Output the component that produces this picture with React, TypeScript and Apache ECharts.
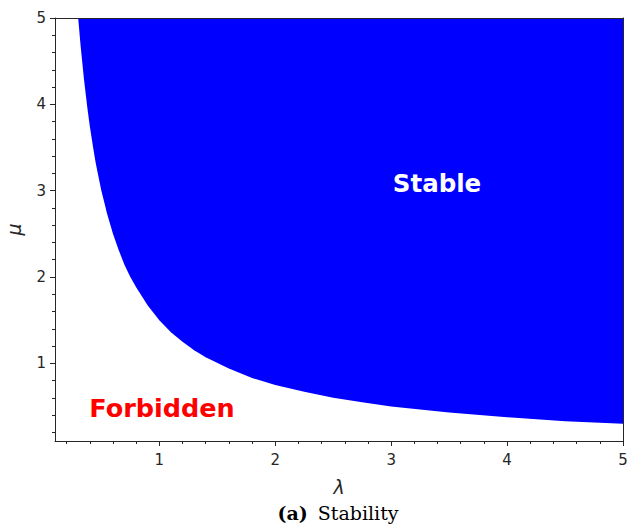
import React, { useEffect, useRef } from "react";
import * as echarts from "echarts";

// Boundary of the stable region
const lambdaVals = [0.30, 0.32, 0.35, 0.38, 0.40, 0.43, 0.45, 0.48, 0.50, 0.55, 0.60, 0.65, 0.70, 0.75, 0.80, 0.90, 1.0, 1.1, 1.2, 1.3, 1.4, 1.6, 1.8, 2.0, 2.25, 2.5, 2.75, 3.0, 3.5, 4.0, 4.5, 5.0];
const muVals = [5.0, 4.69, 4.29, 3.95, 3.75, 3.49, 3.33, 3.13, 3.0, 2.73, 2.5, 2.31, 2.14, 2.0, 1.88, 1.67, 1.5, 1.36, 1.25, 1.15, 1.07, 0.94, 0.83, 0.75, 0.67, 0.6, 0.55, 0.5, 0.43, 0.375, 0.33, 0.30];

const majorTicks = [1, 2, 3, 4, 5];
const minorTicks = [0.2, 0.4, 0.6, 0.8, 1.2, 1.4, 1.6, 1.8, 2.2, 2.4, 2.6, 2.8, 3.2, 3.4, 3.6, 3.8, 4.2, 4.4, 4.6, 4.8];
const axisMin = 0.1;
const axisMax = 5;

const AX = "#262626";

export default function App() {
  const ref = useRef<HTMLDivElement>(null);
  useEffect(() => {
    document.body.style.margin = "0";
    if (!ref.current) return;
    const chart = echarts.init(ref.current, null, { renderer: "svg" });
    const data = lambdaVals.map((l, i) => [l, muVals[i]]);
    const base = { type: "value", min: axisMin, max: axisMax, splitLine: { show: false } };
    chart.setOption({
      animation: false,
      grid: { left: 55, top: 18, right: 5, bottom: 83, containLabel: false, outerBoundsMode: "none" },
      xAxis: [
        {
          ...base,
          position: "bottom",
          name: "λ",
          nameLocation: "middle",
          nameGap: 36,
          nameTextStyle: { fontFamily: "DejaVu Sans", fontStyle: "italic", fontSize: 19, color: AX },
          axisLine: { show: true, onZero: false, lineStyle: { color: AX, width: 1 } },
          axisTick: { show: true, customValues: majorTicks, length: 5, lineStyle: { color: AX } },
          axisLabel: { customValues: majorTicks, fontFamily: "DejaVu Sans", fontSize: 15, color: AX, margin: 11 },
          z: 5,
        },
        {
          ...base,
          position: "bottom",
          axisLine: { show: false },
          axisTick: { show: true, customValues: minorTicks, length: 3, lineStyle: { color: AX } },
          axisLabel: { show: false },
        },
        {
          ...base,
          position: "top",
          axisLine: { show: true, onZero: false, lineStyle: { color: AX, width: 1 } },
          axisTick: { show: false },
          axisLabel: { show: false },
          z: 5,
        },
      ],
      yAxis: [
        {
          ...base,
          position: "left",
          name: "μ",
          nameLocation: "middle",
          nameGap: 32,
          nameTextStyle: { fontFamily: "DejaVu Sans", fontStyle: "italic", fontSize: 19, color: AX },
          axisLine: { show: true, onZero: false, lineStyle: { color: AX, width: 1 } },
          axisTick: { show: true, customValues: majorTicks, length: 5, lineStyle: { color: AX } },
          axisLabel: { customValues: majorTicks, fontFamily: "DejaVu Sans", fontSize: 15, color: AX, margin: 9 },
          z: 5,
        },
        {
          ...base,
          position: "left",
          axisLine: { show: false },
          axisTick: { show: true, customValues: minorTicks, length: 3, lineStyle: { color: AX } },
          axisLabel: { show: false },
        },
        {
          ...base,
          position: "right",
          axisLine: { show: true, onZero: false, lineStyle: { color: AX, width: 1 } },
          axisTick: { show: false },
          axisLabel: { show: false },
          z: 5,
        },
      ],
      series: [
        {
          type: "line",
          xAxisIndex: 0,
          yAxisIndex: 0,
          data,
          showSymbol: false,
          smooth: false,
          lineStyle: { width: 0, opacity: 0 },
          areaStyle: { origin: "end", color: "#0000ff", opacity: 1 },
        },
      ],
      graphic: [
        {
          type: "text",
          x: 437,
          y: 183,
          z: 20,
          style: {
            text: "Stable",
            fill: "#ffffff",
            font: "bold 24.5px 'DejaVu Sans'",
            align: "center",
            verticalAlign: "middle",
          },
        },
        {
          type: "text",
          x: 162,
          y: 408,
          z: 20,
          style: {
            text: "Forbidden",
            fill: "#ff0000",
            font: "bold 25.5px 'DejaVu Sans'",
            align: "center",
            verticalAlign: "middle",
          },
        },
        {
          type: "text",
          x: 338,
          y: 513,
          z: 20,
          style: {
            text: "{b|(a)}{r|Stability}",
            align: "center",
            verticalAlign: "middle",
            rich: {
              b: { fontFamily: "DejaVu Serif", fontWeight: "bold", fontSize: 19, fill: "#000" },
              r: { fontFamily: "DejaVu Serif", fontSize: 19, fill: "#000", padding: [0, 0, 0, 10] },
            },
          },
        },
      ],
    });
    return () => chart.dispose();
  }, []);
  return <div ref={ref} style={{ width: 628, height: 524 }} />;
}
